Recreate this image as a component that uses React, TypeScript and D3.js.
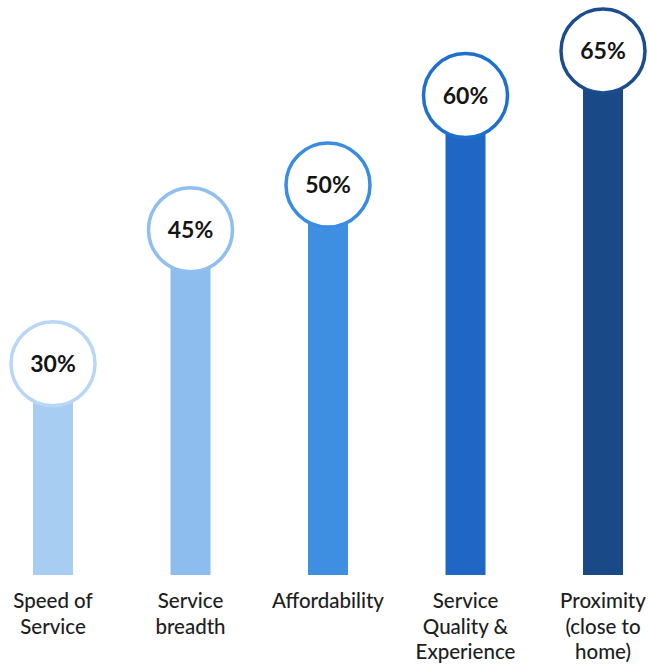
import React from "react";
import * as d3 from "d3";

const categories: string[][] = [
  ["Speed of", "Service"],
  ["Service", "breadth"],
  ["Affordability"],
  ["Service", "Quality &", "Experience"],
  ["Proximity", "(close to", "home)"],
];
const values: number[] = [30, 45, 50, 60, 65];
const barColors = ["#a8cdf3", "#8dbcee", "#3e8ee2", "#2066c4", "#1a4a86"];
const ringColors = ["#b9d6f6", "#8fbef0", "#3a8ce2", "#1f6fd0", "#1b4d8e"];

const W = 648;
const H = 665;

export default function App() {
  const x = d3.scalePoint<number>().domain(d3.range(values.length)).range([53, 603]);
  const y = d3.scaleLinear().domain([0, 70]).range([632, 6.2]);
  const baseline = 575;
  const barW = 40;
  const r = 42;

  return (
    <svg
      width={W}
      height={H}
      style={{ position: "absolute", left: 0, top: 0, background: "#fff" }}
      fontFamily="Lato, 'Open Sans', sans-serif"
    >
      {values.map((v, i) => {
        const cx = x(i)!;
        const cy = y(v);
        return (
          <g key={i}>
            <rect x={cx - barW / 2} y={cy} width={barW} height={baseline - cy} fill={barColors[i]} />
            <circle cx={cx} cy={cy} r={r} fill="#fff" stroke={ringColors[i]} strokeWidth={3.5} />
            <text
              x={cx}
              y={cy}
              dy="0.36em"
              textAnchor="middle"
              fontSize={23}
              fontWeight={700}
              fill="#141414"
            >
              {v}%
            </text>
            <text x={cx} y={608} textAnchor="middle" fontSize={20.5} fontWeight={500} fill="#1e1e1e">
              {categories[i].map((line, j) => (
                <tspan key={j} x={cx} dy={j === 0 ? 0 : 25.5}>
                  {line}
                </tspan>
              ))}
            </text>
          </g>
        );
      })}
    </svg>
  );
}
